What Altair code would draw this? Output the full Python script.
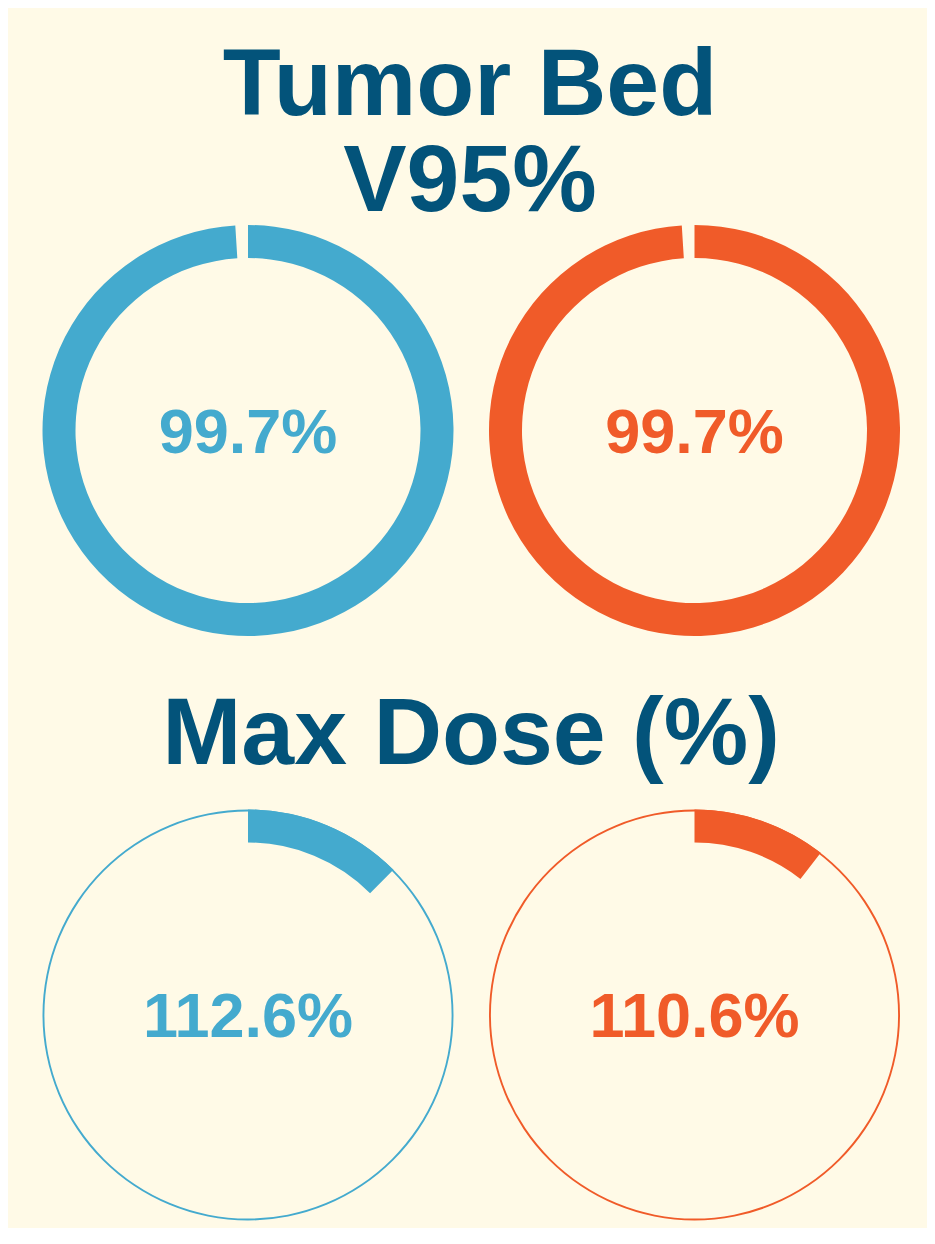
import altair as alt
import pandas as pd

# ---- data ----
arms = ["Arm 1", "Arm 2"]
metrics = ["Tumor Bed V95%", "Max Dose (%)"]
v95_values = [99.7, 99.7]
max_dose_values = [112.6, 110.6]
title_v95 = ["Tumor Bed", "V95%"]
title_max_dose = ["Max Dose (%)"]

# ---- styles ----
BG = "#FFFAE7"
NAVY = "#03537A"
ARM_COLORS = ["#44AACE", "#F05B29"]
FONT = "Liberation Sans"

rows = []
for arm, v in zip(arms, v95_values):
    rows.append({"arm": arm, "metric": metrics[0], "value": v})
for arm, v in zip(arms, max_dose_values):
    rows.append({"arm": arm, "metric": metrics[1], "value": v})
df = pd.DataFrame(rows)
df["arc_start"] = 0.0
df["arc_end"] = df["value"].where(df["value"] <= 100, df["value"] - 100)
df["label"] = df["value"].map(lambda v: f"{v:.1f}%")

x_enc = alt.X("arm:N", scale=alt.Scale(type="point", domain=arms, range=[240, 686.5], padding=0), axis=None)
y_enc = alt.Y("metric:N", scale=alt.Scale(type="point", domain=metrics, range=[422.5, 1007], padding=0), axis=None)
col_enc = alt.Color("arm:N", scale=alt.Scale(domain=arms, range=ARM_COLORS), legend=None)

base = alt.Chart(df)

outline = base.transform_filter(alt.datum.metric == metrics[1]).mark_arc(
    radius=205.5, radius2=203.6, theta=0, theta2=6.2832
).encode(x=x_enc, y=y_enc, color=col_enc)

arcs = base.mark_arc(radius=205.5, radius2=172.5).encode(
    x=x_enc,
    y=y_enc,
    theta=alt.Theta("arc_end:Q", stack=None,
                    scale=alt.Scale(domain=[0, 100], range=[0, 6.24])),
    theta2=alt.Theta2("arc_start:Q"),
    color=col_enc,
)

labels = base.mark_text(
    font=FONT, fontSize=63, fontWeight="bold", align="center",
    baseline="alphabetic", dy=22
).encode(x=x_enc, y=y_enc, text="label:N", color=col_enc)

t1 = alt.Chart(pd.DataFrame({"t": [title_v95]})).mark_text(
    font=FONT, fontSize=95, fontWeight="bold", align="center",
    baseline="alphabetic", lineHeight=96, color=NAVY
).encode(x=alt.value(462), y=alt.value(106.5), text="t")

t2 = alt.Chart(pd.DataFrame({"t": title_max_dose})).mark_text(
    font=FONT, fontSize=95, fontWeight="bold", align="center",
    baseline="alphabetic", color=NAVY
).encode(x=alt.value(463), y=alt.value(756), text="t:N")

chart = alt.layer(outline, arcs, labels, t1, t2).properties(
    width=919, height=1220, background=BG,
    autosize=alt.AutoSizeParams(type="none"), padding=0
).configure_view(stroke=None)

chart.save("out.html", embed_options={"renderer": "svg", "actions": False})
